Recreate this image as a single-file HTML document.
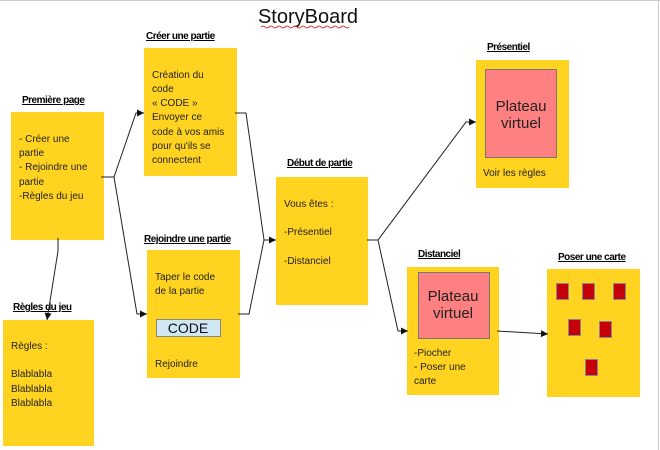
<!DOCTYPE html>
<html><head><meta charset="utf-8"><style>
html,body{margin:0;padding:0;background:#fff}
svg{display:block}
text{font-family:"Liberation Sans",sans-serif}
.b{fill:#FFD320}
.t{font-size:10px;fill:#222}
.h{font-size:10px;font-weight:bold;fill:#000;text-decoration:underline;letter-spacing:-0.5px}
.pk{fill:#FF8080;stroke:#777;stroke-width:1}
.rc{fill:#C5000B;stroke:#888;stroke-width:1}
.l{stroke:#222;stroke-width:1;fill:none}
.pv{font-size:15px;fill:#222;text-anchor:middle}
</style></head><body>
<svg width="660" height="450" viewBox="0 0 660 450" xmlns="http://www.w3.org/2000/svg">
<defs><marker id="a" viewBox="0 0 10 10" refX="10" refY="5" markerWidth="10" markerHeight="7" markerUnits="userSpaceOnUse" orient="auto"><path d="M0,0L10,5L0,10z" fill="#111"/></marker></defs>
<line x1="0" y1="0.5" x2="660" y2="0.5" stroke="#ccc"/>
<line x1="658.5" y1="0" x2="658.5" y2="450" stroke="#ccc"/>
<text x="308" y="23" text-anchor="middle" style="font-size:20px;fill:#111">StoryBoard</text>
<path d="M261,27 q2,-2 4,0 t4,0 t4,0 t4,0 t4,0 t4,0 t4,0 t4,0 t4,0 t4,0 t4,0 t4,0 t4,0 t4,0 t4,0 t4,0 t4,0 t4,0 t4,0 t4,0 t4,0 t4,0" stroke="#d00" fill="none" stroke-width="0.8"/>

<text class="h" x="146" y="39">Créer une partie</text>
<rect class="b" x="144" y="48" width="93" height="128"/>
<text class="t" x="152" y="78">Création du</text>
<text class="t" x="152" y="92">code</text>
<text class="t" x="152" y="106">« CODE »</text>
<text class="t" x="152" y="120">Envoyer ce</text>
<text class="t" x="152" y="135">code à vos amis</text>
<text class="t" x="152" y="149">pour qu'ils se</text>
<text class="t" x="152" y="163">connectent</text>

<text class="h" x="22" y="103">Première page</text>
<rect class="b" x="11" y="112" width="93" height="128"/>
<text class="t" x="19" y="142">- Créer une</text>
<text class="t" x="19" y="156">partie</text>
<text class="t" x="19" y="170">- Rejoindre une</text>
<text class="t" x="19" y="185">partie</text>
<text class="t" x="19" y="199">-Règles du jeu</text>

<text class="h" x="13" y="310">Règles du jeu</text>
<rect class="b" x="3" y="320" width="91" height="126"/>
<text class="t" x="11" y="349">Règles :</text>
<text class="t" x="11" y="377">Blablabla</text>
<text class="t" x="11" y="392">Blablabla</text>
<text class="t" x="11" y="406">Blablabla</text>

<text class="h" x="144" y="242">Rejoindre une partie</text>
<rect class="b" x="147" y="250" width="93" height="128"/>
<text class="t" x="155" y="280">Taper le code</text>
<text class="t" x="155" y="294">de la partie</text>
<rect x="156.5" y="319.5" width="64" height="17" fill="#CFE6F5" stroke="#888"/>
<text x="188" y="333" text-anchor="middle" style="font-size:14px;fill:#111">CODE</text>
<text class="t" x="155" y="367">Rejoindre</text>

<text class="h" x="287" y="166">Début de partie</text>
<rect class="b" x="276" y="177" width="92" height="128"/>
<text class="t" x="284" y="207">Vous êtes :</text>
<text class="t" x="284" y="235">-Présentiel</text>
<text class="t" x="284" y="264">-Distanciel</text>

<text class="h" x="487" y="50">Présentiel</text>
<rect class="b" x="476" y="60" width="93" height="128"/>
<rect class="pk" x="485.5" y="69.5" width="71" height="88"/>
<text class="pv" x="521" y="111">Plateau</text>
<text class="pv" x="521" y="128">virtuel</text>
<text class="t" x="483" y="176">Voir les règles</text>

<text class="h" x="418" y="257">Distanciel</text>
<rect class="b" x="407" y="267" width="92" height="128"/>
<rect class="pk" x="418.5" y="272.5" width="71" height="66"/>
<text class="pv" x="453" y="301">Plateau</text>
<text class="pv" x="453" y="318">virtuel</text>
<text class="t" x="414" y="356">-Piocher</text>
<text class="t" x="414" y="370">- Poser une</text>
<text class="t" x="414" y="384">carte</text>

<text class="h" x="558" y="260">Poser une carte</text>
<rect class="b" x="547" y="269" width="93" height="128"/>
<rect class="rc" x="556.5" y="283.5" width="12" height="16"/>
<rect class="rc" x="582.5" y="283.5" width="12" height="16"/>
<rect class="rc" x="613.5" y="283.5" width="12" height="16"/>
<rect class="rc" x="568.5" y="319.5" width="12" height="16"/>
<rect class="rc" x="599.5" y="321.5" width="12" height="16"/>
<rect class="rc" x="585.5" y="359.5" width="12" height="16"/>

<path class="l" d="M101,177 H114 L136,113 H144" marker-end="url(#a)"/>
<path class="l" d="M114,177 L137,314 H147" marker-end="url(#a)"/>
<path class="l" d="M58,238 V251 L47,320" marker-end="url(#a)"/>
<path class="l" d="M235,113 H246 L264,240 H276" marker-end="url(#a)"/>
<path class="l" d="M238,314 H249 L264,240"/>
<path class="l" d="M367,240 H378 L466,122 H476" marker-end="url(#a)"/>
<path class="l" d="M378,240 L398,331 H408" marker-end="url(#a)"/>
<path class="l" d="M497,331 L548,334" marker-end="url(#a)"/>
</svg>
</body></html>
